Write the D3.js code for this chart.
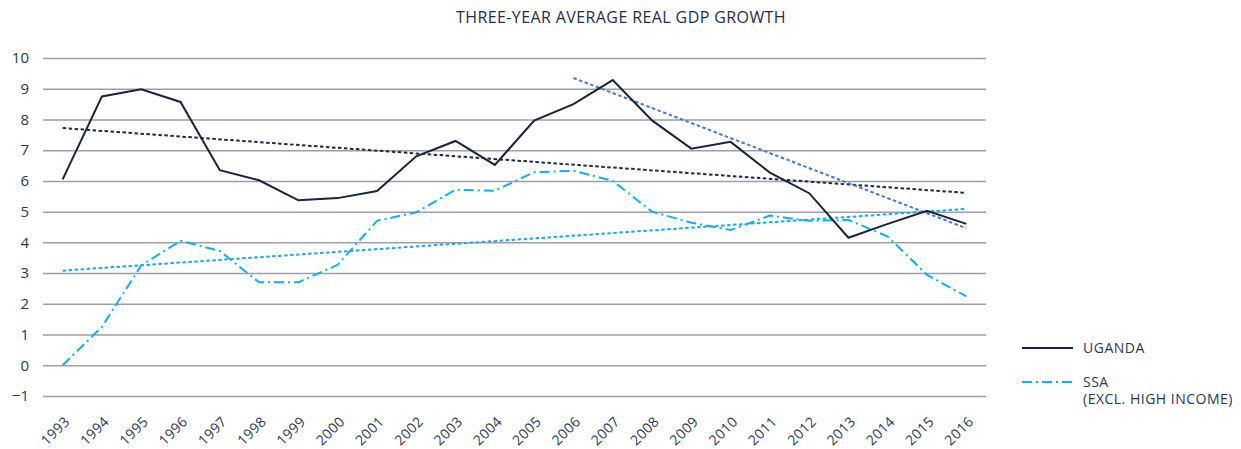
<!DOCTYPE html>
<html><head><meta charset="utf-8">
<script src="https://cdn.jsdelivr.net/npm/d3@7"></script>
<style>body{margin:0;background:#fff;} text{font-family:"Open Sans","Noto Sans",sans-serif;}</style>
</head><body><svg id="c" width="1241" height="449"></svg>
<script>
const years = ["1993","1994","1995","1996","1997","1998","1999","2000","2001","2002","2003","2004","2005","2006","2007","2008","2009","2010","2011","2012","2013","2014","2015","2016"];
const uganda = [6.05,8.75,8.98,8.57,6.35,6.02,5.37,5.44,5.67,6.8,7.3,6.52,7.96,8.5,9.28,7.97,7.05,7.27,6.27,5.6,4.15,4.6,5.03,4.6];
const ssa = [0.0,1.25,3.25,4.05,3.72,2.7,2.7,3.27,4.7,4.98,5.71,5.68,6.28,6.33,6.0,5.0,4.64,4.4,4.87,4.7,4.73,4.19,2.94,2.24];
const ugandaTrend = [{year:"1993",v:7.72},{year:"2016",v:5.61}];
const ssaTrend = [{year:"1993",v:3.08},{year:"2016",v:5.09}];
const ugandaRecentTrend = [{year:"2006",v:9.35},{year:"2016",v:4.46}];
const yTicks = [-1,0,1,2,3,4,5,6,7,8,9,10];

const svg = d3.select("#c");
const x = d3.scalePoint().domain(years).range([43,986]).padding(0.5);
const y = d3.scaleLinear().domain([-1,10]).range([396,58]);
const textCol = "#2b3850";

svg.append("text").attr("x",621).attr("y",23).attr("text-anchor","middle")
  .attr("font-size",16).attr("letter-spacing",0.4).attr("fill","#1f2d45").text("THREE-YEAR AVERAGE REAL GDP GROWTH");

const yAxis = d3.axisLeft(y).tickValues(yTicks).tickSize(-(986-43)).tickFormat(d=>d<0?"\u2212"+Math.abs(d):d);
const gy = svg.append("g").attr("transform","translate(43,0)").call(yAxis);
gy.select(".domain").remove();
gy.selectAll(".tick line").attr("stroke","#9d9ea8").attr("stroke-width",1.5);
gy.selectAll(".tick text").attr("x",-14).attr("font-size",15).attr("fill",textCol).attr("font-family","Open Sans, Noto Sans, sans-serif");

const xAxis = d3.axisBottom(x).tickSize(0);
const gx = svg.append("g").attr("transform","translate(0,400)").call(xAxis);
gx.select(".domain").remove();
gx.selectAll(".tick text").attr("font-size",14).attr("letter-spacing",0.4).attr("fill",textCol).attr("font-family","Open Sans, Noto Sans, sans-serif")
  .attr("text-anchor","end").attr("dy","0.35em").attr("transform","translate(4,19) rotate(-45)").attr("y",0).attr("x",0);

const line = d3.line().x((d,i)=>x(years[i])).y(d=>y(d));
const tline = d3.line().x(d=>x(d.year)).y(d=>y(d.v));

svg.append("path").datum(ssaTrend).attr("d",tline).attr("fill","none").attr("stroke","#1aa9e6").attr("stroke-width",2).attr("stroke-dasharray","3.5,2.5");
svg.append("path").datum(ugandaTrend).attr("d",tline).attr("fill","none").attr("stroke","#1b2a45").attr("stroke-width",2).attr("stroke-dasharray","3.5,2.5");
svg.append("path").datum(ugandaRecentTrend).attr("d",tline).attr("fill","none").attr("stroke","#4a78c2").attr("stroke-width",2).attr("stroke-dasharray","3.5,2.5");

svg.append("path").datum(ssa).attr("d",line).attr("fill","none").attr("stroke","#14aeea").attr("stroke-width",2).attr("stroke-dasharray","10,4,2,4");
svg.append("path").datum(uganda).attr("d",line).attr("fill","none").attr("stroke","#16243f").attr("stroke-width",2);

const leg = svg.append("g");
leg.append("line").attr("x1",1022).attr("x2",1073).attr("y1",348).attr("y2",348).attr("stroke","#16243f").attr("stroke-width",2);
leg.append("text").attr("x",1083).attr("y",353).attr("font-size",14).attr("letter-spacing",0.5).attr("fill",textCol).text("UGANDA");
leg.append("line").attr("x1",1022).attr("x2",1073).attr("y1",382).attr("y2",382).attr("stroke","#14aeea").attr("stroke-width",2).attr("stroke-dasharray","10,4,2,4");
leg.append("text").attr("x",1083).attr("y",387).attr("font-size",14).attr("letter-spacing",0.5).attr("fill",textCol).text("SSA");
leg.append("text").attr("x",1083).attr("y",404).attr("font-size",14).attr("letter-spacing",0.5).attr("fill",textCol).text("(EXCL. HIGH INCOME)");
</script></body></html>
